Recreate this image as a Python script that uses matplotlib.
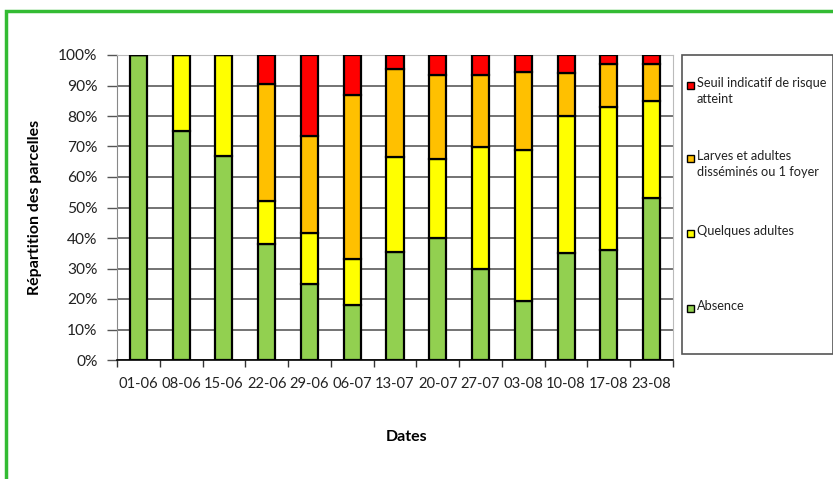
import numpy as np
import matplotlib.pyplot as plt
from matplotlib.patches import Rectangle

plt.rcParams['font.family'] = ['Lato', 'DejaVu Sans']

dates = ['01-06', '08-06', '15-06', '22-06', '29-06', '06-07', '13-07',
         '20-07', '27-07', '03-08', '10-08', '17-08', '23-08']
absence = [100, 75, 67, 38, 25, 18, 35.5, 40, 30, 19.5, 35, 36, 53]
quelques = [0, 25, 33, 14, 16.5, 15, 31, 26, 40, 49.5, 45, 47, 32]
larves = [0, 0, 0, 38.5, 32, 54, 29, 27.5, 23.5, 25.5, 14, 14, 12]
seuil = [0, 0, 0, 9.5, 26.5, 13, 4.5, 6.5, 6.5, 5.5, 6, 3, 3]

labels = ['Absence', 'Quelques adultes',
          'Larves et adultes\ndisséminés ou 1 foyer',
          'Seuil indicatif de risque\natteint']
colors = ['#92D050', '#FFFF00', '#FFC000', '#FF0000']

fig = plt.figure(figsize=(8.33, 4.79), dpi=100)
ax = fig.add_axes([117/833, 1-360/479, (673-117)/833, (360-55)/479])

x = np.arange(len(dates))
bottom = np.zeros(len(dates))
for vals, col in zip([absence, quelques, larves, seuil], colors):
    vals = np.array(vals, dtype=float)
    ax.bar(x, vals, 0.4, bottom=bottom, color=col, edgecolor='black',
           linewidth=1.6, zorder=3)
    bottom += vals

ax.set_xlim(-0.5, len(dates) - 0.5)
ax.set_ylim(0, 100)
ax.set_yticks(np.arange(0, 101, 10))
ax.set_yticklabels([f'{v}%' for v in range(0, 101, 10)], fontsize=11.2,
                   color='#222222')
ax.set_xticks(x)
ax.set_xticklabels(dates, fontsize=10.6, color='#222222')
ax.set_xticks(np.arange(-0.5, len(dates)), minor=True)
ax.tick_params(axis='x', which='major', length=0, pad=12)
ax.tick_params(axis='x', which='minor', length=5, width=1, color='#333333')
ax.tick_params(axis='y', length=7, width=1, color='#555555', pad=7)
ax.yaxis.grid(True, color='#4d4d4d', linewidth=1.1, zorder=0)
for side in ['top', 'right']:
    ax.spines[side].set_color('#bbbbbb')
ax.spines['left'].set_color('#888888')
ax.spines['bottom'].set_color('black')
ax.spines['bottom'].set_linewidth(1.2)

fig.text(35/833, 1-207/479, 'Répartition des parcelles', rotation=90,
         ha='center', va='center', fontsize=11.5, fontweight='bold')
fig.text(407/833, 1-437/479, 'Dates', ha='center', va='center',
         fontsize=11.5, fontweight='bold')

# legend box on the right
fig.patches.append(Rectangle((682/833, 1-354/479), 151/833, 299/479,
                             transform=fig.transFigure, facecolor='white',
                             edgecolor='#555555', linewidth=1.2))
leg_y = [308, 233, 158, 85]
for lab, col, yy in zip(labels, colors, leg_y):
    fig.patches.append(Rectangle((687/833, 1-(yy+4)/479), 7/833, 7/479,
                                 transform=fig.transFigure, facecolor=col,
                                 edgecolor='black', linewidth=1))
    fig.text(697/833, 1-(yy-8)/479, lab, ha='left', va='top', fontsize=9.2,
             color='#222222', linespacing=1.4)

# green frame
fig.patches.append(Rectangle((6/833, -0.05), 1.0, 1-11/479+0.05,
                             transform=fig.transFigure, facecolor='none',
                             edgecolor='#33BB33', linewidth=2.5))

fig.savefig('out.png', dpi=100)
